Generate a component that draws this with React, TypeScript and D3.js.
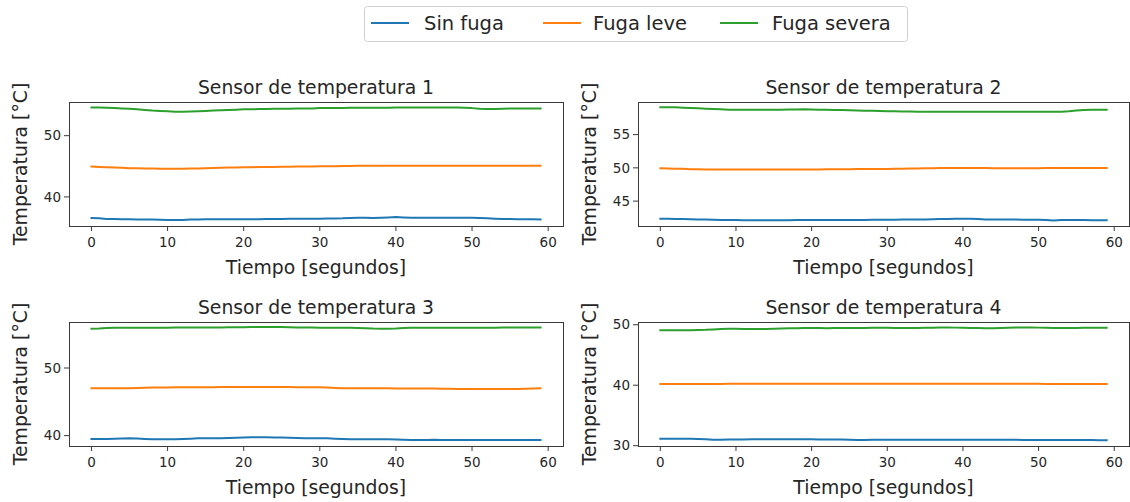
import React from "react";
import * as d3 from "d3";

const seriesNames = ["Sin fuga", "Fuga leve", "Fuga severa"];
const seriesColors = ["#1f77b4", "#ff7f0e", "#2ca02c"];
const sensorTitles = [
  "Sensor de temperatura 1",
  "Sensor de temperatura 2",
  "Sensor de temperatura 3",
  "Sensor de temperatura 4",
];
const timeSeconds = d3.range(0, 60);
const xTicks = [0, 10, 20, 30, 40, 50, 60];
const yTicks = [[40, 50], [45, 50, 55], [40, 50], [30, 40, 50]];
const yDomains = [[35.25, 55.5], [41.26, 59.9], [38.47, 56.8], [29.95, 50.45]];

const s1SinFuga = [
  36.55, 36.5, 36.4, 36.38, 36.35, 36.35, 36.33, 36.33, 36.3, 36.28,
  36.25, 36.22, 36.25, 36.3, 36.33, 36.35, 36.35, 36.35, 36.35, 36.35,
  36.35, 36.36, 36.37, 36.38, 36.4, 36.4, 36.42, 36.42, 36.44, 36.45,
  36.45, 36.47, 36.48, 36.5, 36.55, 36.6, 36.58, 36.56, 36.6, 36.65,
  36.7, 36.65, 36.6, 36.58, 36.58, 36.58, 36.58, 36.58, 36.58, 36.58,
  36.58, 36.55, 36.5, 36.45, 36.4, 36.38, 36.36, 36.35, 36.35, 36.3,
];
const s1FugaLeve = [
  44.95, 44.9, 44.85, 44.8, 44.75, 44.7, 44.7, 44.65, 44.65, 44.6,
  44.6, 44.6, 44.6, 44.62, 44.65, 44.7, 44.72, 44.75, 44.8, 44.82,
  44.85, 44.85, 44.88, 44.9, 44.9, 44.92, 44.92, 44.95, 44.95, 44.98,
  45.0, 45.0, 45.02, 45.05, 45.05, 45.08, 45.08, 45.1, 45.1, 45.1,
  45.1, 45.1, 45.1, 45.1, 45.1, 45.1, 45.1, 45.1, 45.1, 45.1,
  45.1, 45.1, 45.1, 45.1, 45.1, 45.1, 45.1, 45.1, 45.1, 45.1,
];
const s1FugaSevera = [
  54.6, 54.6, 54.55, 54.5, 54.45, 54.4, 54.3, 54.2, 54.1, 54.05,
  54.0, 53.9, 53.9, 53.95, 54.0, 54.05, 54.1, 54.15, 54.2, 54.25,
  54.3, 54.3, 54.35, 54.35, 54.4, 54.4, 54.4, 54.45, 54.45, 54.45,
  54.5, 54.5, 54.5, 54.5, 54.55, 54.55, 54.55, 54.55, 54.55, 54.55,
  54.6, 54.6, 54.6, 54.6, 54.6, 54.6, 54.6, 54.6, 54.6, 54.55,
  54.5, 54.4, 54.35, 54.35, 54.4, 54.45, 54.45, 54.45, 54.45, 54.45,
];

const s2SinFuga = [
  42.35, 42.35, 42.33, 42.3, 42.28, 42.25, 42.22, 42.2, 42.18, 42.15,
  42.15, 42.14, 42.14, 42.13, 42.13, 42.13, 42.14, 42.14, 42.15, 42.15,
  42.15, 42.15, 42.16, 42.16, 42.17, 42.17, 42.18, 42.18, 42.19, 42.2,
  42.2, 42.21, 42.22, 42.23, 42.24, 42.25, 42.27, 42.3, 42.33, 42.35,
  42.35, 42.35, 42.3, 42.25, 42.25, 42.24, 42.23, 42.22, 42.21, 42.2,
  42.2, 42.15, 42.08, 42.15, 42.16, 42.15, 42.15, 42.14, 42.13, 42.12,
];
const s2FugaLeve = [
  49.95, 49.92, 49.88, 49.85, 49.8, 49.78, 49.76, 49.75, 49.75, 49.74,
  49.74, 49.74, 49.74, 49.74, 49.74, 49.74, 49.74, 49.75, 49.75, 49.76,
  49.76, 49.77, 49.78, 49.79, 49.8, 49.8, 49.81, 49.82, 49.82, 49.83,
  49.84, 49.86, 49.88, 49.9, 49.92, 49.93, 49.95, 49.96, 49.97, 49.97,
  49.97, 49.97, 49.96, 49.96, 49.95, 49.95, 49.95, 49.95, 49.95, 49.95,
  49.95, 49.96, 49.96, 49.96, 49.96, 49.96, 49.96, 49.96, 49.96, 49.96,
];
const s2FugaSevera = [
  59.1, 59.1, 59.1, 59.05, 59.0, 58.95, 58.9, 58.85, 58.8, 58.75,
  58.75, 58.72, 58.72, 58.72, 58.72, 58.72, 58.74, 58.76, 58.78, 58.8,
  58.78, 58.75, 58.72, 58.7, 58.68, 58.65, 58.62, 58.6, 58.58, 58.55,
  58.52, 58.5, 58.48, 58.46, 58.45, 58.45, 58.42, 58.42, 58.42, 58.45,
  58.45, 58.45, 58.45, 58.43, 58.42, 58.42, 58.42, 58.42, 58.42, 58.42,
  58.42, 58.42, 58.42, 58.45, 58.52, 58.62, 58.7, 58.72, 58.72, 58.72,
];

const s3SinFuga = [
  39.5, 39.5, 39.52, 39.55, 39.58, 39.6, 39.58, 39.52, 39.47, 39.46,
  39.46, 39.46, 39.5, 39.55, 39.6, 39.6, 39.6, 39.62, 39.66, 39.7,
  39.74, 39.75, 39.76, 39.75, 39.74, 39.72, 39.68, 39.65, 39.63, 39.62,
  39.62, 39.6, 39.55, 39.5, 39.47, 39.46, 39.46, 39.46, 39.46, 39.45,
  39.42, 39.38, 39.36, 39.36, 39.37, 39.38, 39.36, 39.35, 39.35, 39.35,
  39.35, 39.36, 39.36, 39.36, 39.35, 39.35, 39.35, 39.36, 39.36, 39.36,
];
const s3FugaLeve = [
  47.0, 47.0, 47.0, 47.0, 47.0, 47.02, 47.05, 47.08, 47.1, 47.12,
  47.13, 47.14, 47.14, 47.14, 47.15, 47.16, 47.17, 47.18, 47.19, 47.2,
  47.2, 47.2, 47.2, 47.2, 47.2, 47.19, 47.18, 47.16, 47.15, 47.15,
  47.15, 47.12, 47.06, 47.02, 47.0, 47.0, 47.0, 47.0, 46.99, 46.99,
  46.98, 46.98, 46.98, 46.98, 46.97, 46.96, 46.95, 46.93, 46.91, 46.9,
  46.9, 46.9, 46.9, 46.9, 46.9, 46.9, 46.9, 46.92, 46.96, 47.0,
];
const s3FugaSevera = [
  55.82, 55.85, 55.92, 55.95, 55.96, 55.96, 55.96, 55.96, 55.96, 55.96,
  55.96, 55.97, 55.97, 55.97, 55.98, 55.99, 56.0, 56.0, 56.01, 56.02,
  56.04, 56.05, 56.06, 56.06, 56.06, 56.05, 56.03, 56.0, 55.98, 55.97,
  55.96, 55.96, 55.96, 55.96, 55.95, 55.93, 55.88, 55.83, 55.82, 55.82,
  55.85, 55.92, 55.95, 55.96, 55.96, 55.96, 55.96, 55.96, 55.96, 55.96,
  55.96, 55.96, 55.96, 55.96, 55.97, 55.97, 55.98, 55.98, 55.98, 55.98,
];

const s4SinFuga = [
  31.13, 31.13, 31.14, 31.14, 31.13, 31.12, 31.05, 30.97, 31.0, 31.02,
  31.03, 31.04, 31.05, 31.05, 31.05, 31.05, 31.06, 31.06, 31.05, 31.05,
  31.05, 31.04, 31.04, 31.03, 31.03, 31.0, 30.95, 30.93, 30.97, 30.98,
  30.98, 30.98, 30.98, 30.98, 30.97, 30.97, 30.97, 30.97, 30.97, 30.97,
  30.97, 30.97, 30.98, 30.98, 30.98, 30.97, 30.97, 30.97, 30.96, 30.96,
  30.96, 30.96, 30.96, 30.95, 30.95, 30.95, 30.94, 30.93, 30.92, 30.9,
];
const s4FugaLeve = [
  40.2, 40.2, 40.2, 40.2, 40.2, 40.2, 40.2, 40.2, 40.22, 40.24,
  40.25, 40.25, 40.25, 40.25, 40.25, 40.25, 40.25, 40.25, 40.25, 40.25,
  40.25, 40.25, 40.25, 40.25, 40.25, 40.25, 40.25, 40.25, 40.25, 40.25,
  40.25, 40.25, 40.25, 40.25, 40.25, 40.25, 40.25, 40.25, 40.25, 40.25,
  40.25, 40.25, 40.25, 40.25, 40.25, 40.25, 40.25, 40.25, 40.25, 40.24,
  40.23, 40.22, 40.21, 40.2, 40.2, 40.2, 40.2, 40.2, 40.2, 40.2,
];
const s4FugaSevera = [
  49.1, 49.1, 49.1, 49.1, 49.1, 49.12, 49.15, 49.22, 49.28, 49.32,
  49.33, 49.3, 49.3, 49.3, 49.3, 49.32, 49.36, 49.4, 49.43, 49.45,
  49.45, 49.44, 49.43, 49.44, 49.45, 49.45, 49.45, 49.47, 49.5, 49.5,
  49.48, 49.46, 49.45, 49.45, 49.46, 49.48, 49.5, 49.53, 49.55, 49.52,
  49.48, 49.45, 49.44, 49.42, 49.42, 49.45, 49.5, 49.53, 49.55, 49.55,
  49.52, 49.48, 49.45, 49.45, 49.45, 49.46, 49.48, 49.5, 49.5, 49.5,
];

const sensorData = [
  [s1SinFuga, s1FugaLeve, s1FugaSevera],
  [s2SinFuga, s2FugaLeve, s2FugaSevera],
  [s3SinFuga, s3FugaLeve, s3FugaSevera],
  [s4SinFuga, s4FugaLeve, s4FugaSevera],
];

const W = 1130;
const H = 502;
const FONT = "DejaVu Sans, sans-serif";
const TEXT = "#262626";
const SPINE = "#3a3a3a";
const colX = [[69, 563], [638, 1129]];
const rowY = [[102, 226], [322, 446]];

function Panel({ idx }: { idx: number }) {
  const [x0, x1] = colX[idx % 2];
  const [y0, y1] = rowY[Math.floor(idx / 2)];
  const x = d3.scaleLinear().domain([-2.95, 61.95]).range([x0, x1]);
  const y = d3.scaleLinear().domain(yDomains[idx]).range([y1, y0]);
  const line = d3
    .line<number>()
    .x((_, i) => x(timeSeconds[i]))
    .y((d) => y(d));
  const cx = (x0 + x1) / 2;
  const cy = (y0 + y1) / 2;
  return (
    <g>
      <defs>
        <clipPath id={`clip${idx}`}>
          <rect x={x0} y={y0} width={x1 - x0} height={y1 - y0} />
        </clipPath>
      </defs>
      <g clipPath={`url(#clip${idx})`}>
        {sensorData[idx].map((s, k) => (
          <path
            key={k}
            d={line(s) || ""}
            fill="none"
            stroke={seriesColors[k]}
            strokeWidth={2}
            strokeLinejoin="round"
            strokeLinecap="square"
          />
        ))}
      </g>
      <rect
        x={x0 + 0.5}
        y={y0 + 0.5}
        width={x1 - x0}
        height={y1 - y0}
        fill="none"
        stroke={SPINE}
        strokeWidth={1}
      />
      {xTicks.map((t) => (
        <g key={`x${t}`}>
          <line x1={x(t)} x2={x(t)} y1={y1} y2={y1 + 5} stroke={SPINE} strokeWidth={1} />
          <text
            x={x(t)}
            y={y1 + 21}
            textAnchor="middle"
            fontSize={13.5}
            fontFamily={FONT}
            fill={TEXT}
          >
            {t}
          </text>
        </g>
      ))}
      {yTicks[idx].map((t) => (
        <g key={`y${t}`}>
          <line x1={x0 - 5} x2={x0} y1={y(t)} y2={y(t)} stroke={SPINE} strokeWidth={1} />
          <text
            x={x0 - 8}
            y={y(t)}
            dy="0.35em"
            textAnchor="end"
            fontSize={13.5}
            fontFamily={FONT}
            fill={TEXT}
          >
            {t}
          </text>
        </g>
      ))}
      <text x={cx} y={y0 - 8} textAnchor="middle" fontSize={18.8} fontFamily={FONT} fill={TEXT}>
        {sensorTitles[idx]}
      </text>
      <text x={cx} y={y1 + 48} textAnchor="middle" fontSize={18.8} fontFamily={FONT} fill={TEXT}>
        Tiempo [segundos]
      </text>
      <text
        transform={`translate(${x0 - 42},${cy}) rotate(-90)`}
        textAnchor="middle"
        fontSize={18.8}
        fontFamily={FONT}
        fill={TEXT}
      >
        Temperatura [°C]
      </text>
    </g>
  );
}

function Legend() {
  const items = [
    { lx: 371, tx: 424 },
    { lx: 543, tx: 593 },
    { lx: 720, tx: 772 },
  ];
  return (
    <g>
      <rect x={364.5} y={6.5} width={543} height={35} rx={3} fill="#fff" stroke="#d0d0d0" strokeWidth={1} />
      {seriesNames.map((n, i) => (
        <g key={n}>
          <line
            x1={items[i].lx}
            x2={items[i].lx + 38}
            y1={23}
            y2={23}
            stroke={seriesColors[i]}
            strokeWidth={2}
          />
          <text x={items[i].tx} y={23} dy="0.35em" fontSize={19.5} fontFamily={FONT} fill={TEXT}>
            {n}
          </text>
        </g>
      ))}
    </g>
  );
}

export default function App() {
  return (
    <svg
      width={W}
      height={H}
      style={{ position: "absolute", left: 0, top: 0, background: "#fff" }}
    >
      <rect x={0} y={0} width={W} height={H} fill="#fff" />
      {[0, 1, 2, 3].map((i) => (
        <Panel key={i} idx={i} />
      ))}
      <Legend />
    </svg>
  );
}
